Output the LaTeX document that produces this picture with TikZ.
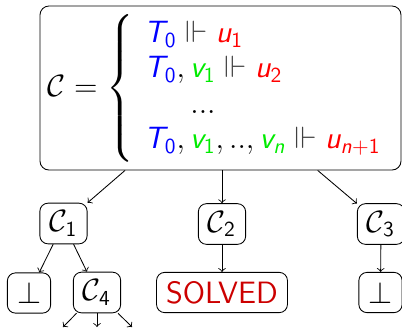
\documentclass[tikz,border=0pt]{standalone}
\usepackage{amsmath,amssymb}
\DeclareMathAlphabet{\mathsfit}{OT1}{cmss}{m}{sl}
\definecolor{vgreen}{RGB}{0,235,0}
\definecolor{alertred}{RGB}{204,0,0}
\newcommand{\myT}{{\color{blue}\mathsfit{T}_{\mathsf{0}}}}
\newcommand{\myv}[1]{{\color{vgreen}\mathsfit{v}_{#1}}}
\newcommand{\myu}[1]{{\color{red}\mathsfit{u}_{#1}}}
\newcommand{\myent}{\mathrel{\color{black!75}\Vdash}}
\begin{document}
\begin{tikzpicture}[x=0.467pt,y=-0.467pt,
  box/.style={draw, rounded corners=3.8pt, inner xsep=4.5pt, inner ysep=3.5pt, minimum height=18.8pt, minimum width=19.6pt, font=\Large},
  edge/.style={->}]
\useasboundingbox (0,0) rectangle (402,327);
\clip (0,0) rectangle (402,327);
\node[draw, rounded corners=4.2pt, minimum width=168.6pt, minimum height=76.6pt] (root) at (220.5,88) {};
\node[anchor=west, inner sep=0pt, font=\Large] (rootlabel) at (47,88.5) {\renewcommand{\arraystretch}{0.92}$\mathcal{C} = \left\{\begin{array}{l}
\myT \myent \myu{\mathsf{1}}\\
\myT, \myv{\mathsf{1}} \myent \myu{\mathsf{2}}\\
\hspace{1.5em}...\\
\myT, \myv{\mathsf{1}}, .., \myv{\mathsfit{n}} \myent \myu{\mathsfit{n}{+}\mathsf{1}}
\end{array}\right.$};
\node[box] (c1) at (63.5,223.5) {$\mathcal{C}_{\mathsf{1}}$};
\node[box] (c2) at (222,224) {$\mathcal{C}_{\mathsf{2}}$};
\node[box] (c3) at (381,224) {$\mathcal{C}_{\mathsf{3}}$};
\node[box] (b1) at (29,293) {$\bot$};
\node[box] (c4) at (97,292.5) {$\mathcal{C}_{\mathsf{4}}$};
\node[box, text=alertred] (solved) at (222,292.5) {\sffamily SOLVED};
\node[box] (b3) at (380.5,292.5) {$\bot$};
\coordinate (e1) at (63,327);
\coordinate (e2) at (97,327);
\coordinate (e3) at (132,327);
\draw[edge] (root) -- (c1);
\draw[edge] (root.south -| c2) -- (c2);
\draw[edge] (root) -- (c3);
\draw[edge] (c1) -- (b1);
\draw[edge] (c1) -- (c4);
\draw[edge] (c2) -- (solved);
\draw[edge] (c3) -- (b3);
\draw[edge] (c4) -- (e1);
\draw[edge] (c4) -- (e2);
\draw[edge] (c4) -- (e3);
\end{tikzpicture}
\end{document}
